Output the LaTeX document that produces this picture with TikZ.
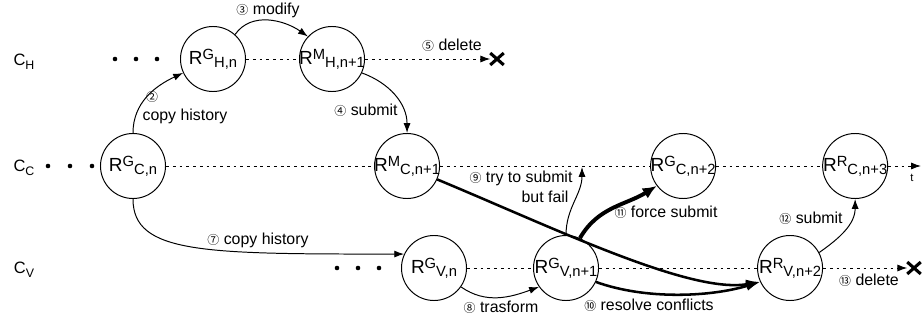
\documentclass[tikz,border=0pt]{standalone}
\usepackage{fontspec}
\setmainfont{Liberation Sans}
\newfontfamily\numfont{Noto Sans CJK JP}
\usetikzlibrary{arrows.meta, positioning, shapes.misc}

\newcommand{\replica}[2]{\makebox[0pt]{{\fontsize{13.5}{14}\selectfont R}\raisebox{3.6pt}{\fontsize{10.5}{11}\selectfont #1}\raisebox{-2pt}{\fontsize{10.5}{11}\selectfont #2}}}
\newcommand{\cnum}[1]{{\numfont\fontsize{8.5}{9}\selectfont #1}}
\newcommand{\lanename}[1]{{\fontsize{11.7}{13}\selectfont C}\raisebox{-3pt}{\fontsize{8.8}{10}\selectfont #1}}

\tikzset{
  rep/.style={circle, draw, line width=0.7pt, minimum size=1.625cm, inner sep=0pt},
  xmark/.style={cross out, draw, line width=2.2pt, minimum width=0.26cm, minimum height=0.22cm, inner sep=0pt},
  arrow/.style={-{Latex[length=7pt, width=5pt]}, line width=0.7pt},
  timeline/.style={line width=0.7pt, dash pattern=on 2pt off 2.8pt},
  heavy/.style={-{Latex[length=10pt, width=7pt]}, line width=1.8pt},
  heavier/.style={-{Latex[length=10pt, width=8.5pt]}, line width=2.8pt},
  lbl/.style={font=\fontsize{11.3}{13}\selectfont, inner sep=0pt}
}

\begin{document}
\begin{tikzpicture}[x=0.025cm, y=0.025cm]
\useasboundingbox (0,0) rectangle (922,324);

% Lanes
\node (lh) at (24,262) {\lanename{H}};
\node (lc) at (24,156) {\lanename{C}};
\node (lv) at (24,54) {\lanename{V}};

% Dots
\foreach \x in {115,136,157} \fill (\x,265) circle (2.3);
\foreach \x in {48,70,92} \fill (\x,158) circle (2.3);
\foreach \x in {337,358,379} \fill (\x,56) circle (2.3);

% History lane
\node[rep] (hgn) at (213,265) {\replica{G}{H,n}};
\node[rep, right=1.325cm of hgn] (hmn) {\replica{M}{H,n+1}};
\node[xmark] (hx) at (497,265) {};

% Central lane
\node[rep] (cgn) at (133,158) {\replica{G}{C,n}};
\node[rep, right=5.2cm of cgn] (cmn) {\replica{M}{C,n+1}};
\node[rep, right=5.25cm of cmn] (cgn2) {\replica{G}{C,n+2}};
\node[rep, right=2.65cm of cgn2] (crn3) {\replica{R}{C,n+3}};
\coordinate (tend) at (921,158);
\coordinate (fail) at (582,157);

% Version lane
\node[rep] (vgn) at (434,56) {\replica{G}{V,n}};
\node[rep, right=1.65cm of vgn] (vgn1) {\replica{G}{V,n+1}};
\node[rep, right=3.95cm of vgn1] (vrn2) {\replica{R}{V,n+2}};
\node[xmark] (vx) at (914,56) {};

% Time lines
\draw[timeline] (hgn) -- (hmn);
\draw[timeline, arrow] (hmn) -- (hx);
\draw[timeline] (cgn) -- (cmn) -- (cgn2) -- (crn3);
\draw[timeline, arrow] (crn3) -- (tend);
\draw[timeline] (vgn) -- (vgn1) -- (vrn2);
\draw[timeline, arrow] (vrn2) -- (vx);

% Connections
\draw[arrow] (cgn.north) to[out=90, in=205] (hgn.205);
\draw[arrow] (hgn.48) to[out=55, in=145] (hmn.137);
\draw[arrow] (hmn.-25) to[out=-20, in=90] (cmn.north);
\draw[arrow] (cgn.south) .. controls +(0,-55) and +(-200,0) .. (vgn.155);
\draw[arrow] (vgn.-35) to[out=-35, in=200] (vgn1.215);
\draw[arrow] (vgn1.north) to[out=90, in=-90] (fail);
\draw[heavy] (cmn.-24) .. controls +(120,-50) and +(-70,-12) .. (vrn2.205);
\draw[heavy] (vgn1.-25) .. controls +(50,-18) and +(-50,-15) .. (vrn2.205);
\draw[heavier] (vgn1.65) to[out=60, in=212] (cgn2.217);
\draw[arrow] (vrn2.28) to[out=35, in=-90] (crn3.south);

% Labels
\node[lbl] (n2) at (152,227) {\cnum{②}};
\node[lbl] (l2) at (185,208) {copy history};
\node[lbl] (l3) at (268,314) {\cnum{③} modify};
\node[lbl] (l4) at (366,214) {\cnum{④} submit};
\node[lbl] (l5) at (452,279) {\cnum{⑤} delete};
\node[lbl] (l7) at (258,84) {\cnum{⑦} copy history};
\node[lbl] (l8) at (501,17) {\cnum{⑧} trasform};
\node[lbl] (l9) at (521,146) {\cnum{⑨} try to submit};
\node[lbl] (l9b) at (545,127) {but fail};
\node[lbl] (l10) at (649,19) {\cnum{⑩} resolve conflicts};
\node[lbl] (l11) at (666,112) {\cnum{⑪} force submit};
\node[lbl] (l12) at (811,106) {\cnum{⑫} submit};
\node[lbl] (l13) at (869,44) {\cnum{⑬} delete};
\node[font=\fontsize{8}{9}\selectfont, inner sep=0pt] (lt) at (912,146) {t};

\end{tikzpicture}
\end{document}
